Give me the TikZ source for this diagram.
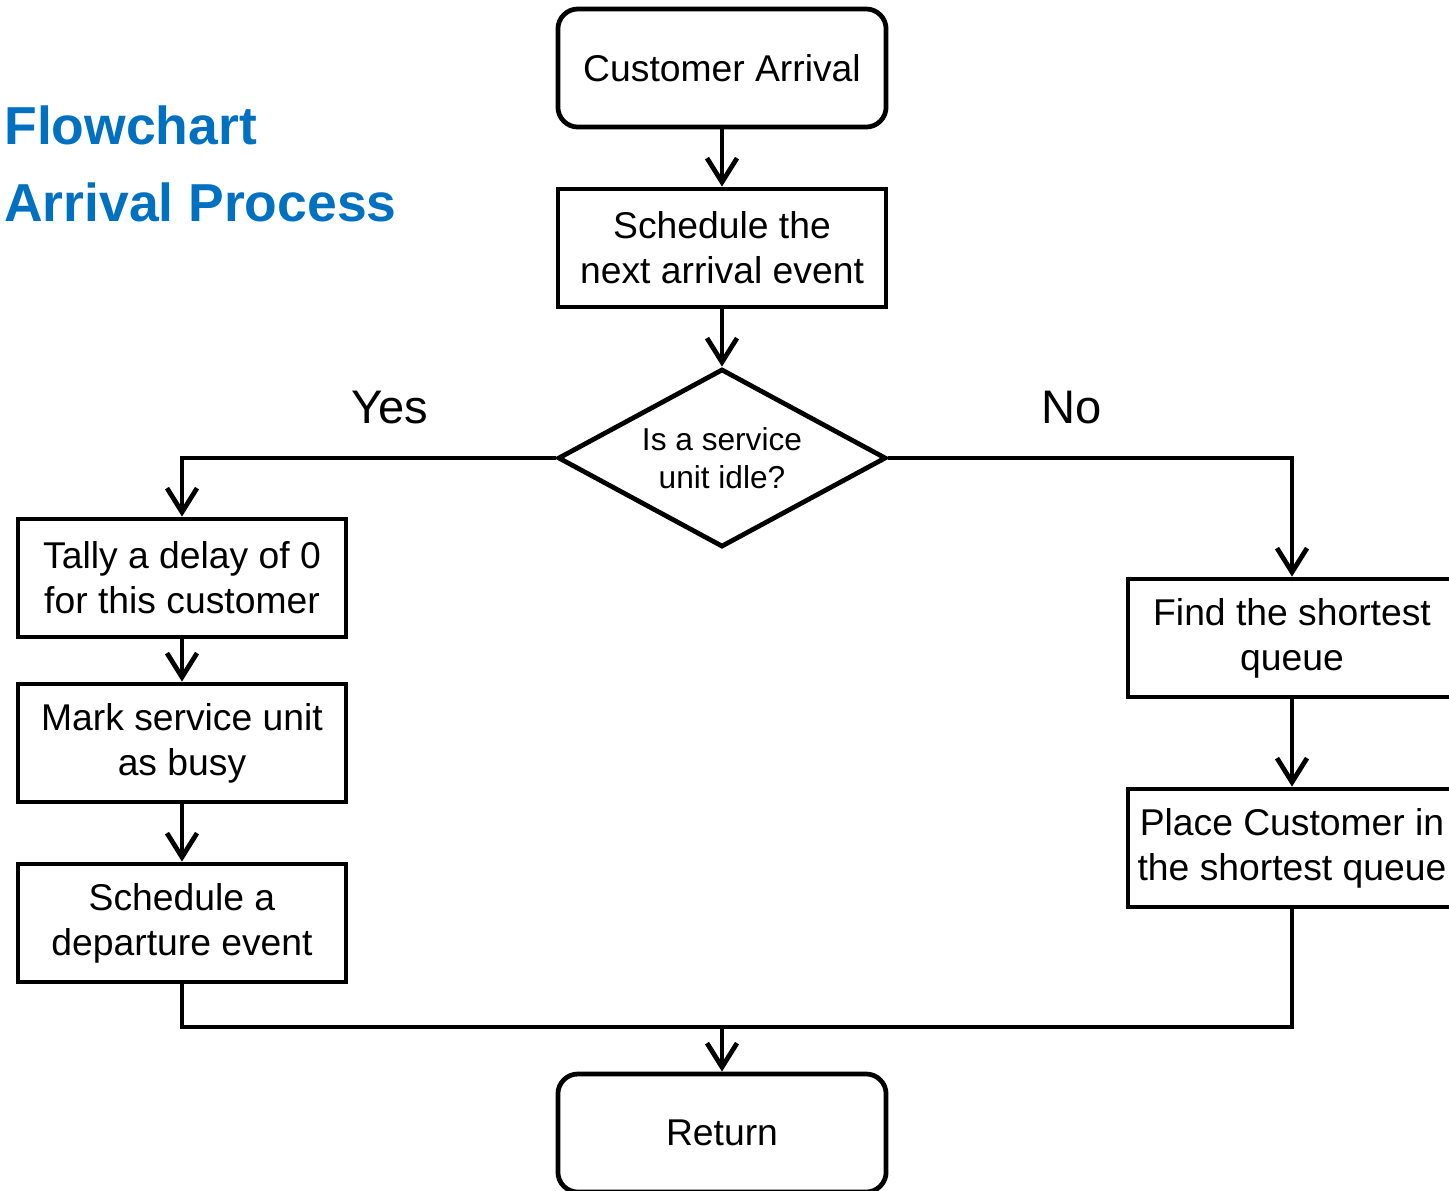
\documentclass[tikz,border=0pt]{standalone}
\usepackage{fontspec}
\setmainfont{Liberation Sans}
\usepackage{tikz}
\usetikzlibrary{arrows.meta,shapes.geometric}
\definecolor{titleblue}{HTML}{0070C0}

\begin{document}
\begin{tikzpicture}[x=0.01cm,y=-0.01cm,
  line width=1.35pt,
  box/.style={draw,minimum width=3.28cm,minimum height=1.18cm,inner sep=0pt,align=center,font=\fontsize{10.6}{12.8}\selectfont},
  term/.style={box,rounded corners=0.2cm},
  decision/.style={draw,diamond,aspect=1.83,minimum width=3.28cm,minimum height=1.78cm,inner sep=0pt,align=center,font=\fontsize{9}{10.8}\selectfont},
  flow/.style={-{Straight Barb[length=2.4mm,width=3mm]}}]

\useasboundingbox (0,0) rectangle (1449,1190);
\clip (0,0) rectangle (1449,1190);

\node[anchor=base west,text=titleblue,font=\fontsize{15.2}{18}\selectfont\bfseries,inner sep=0pt] (t1) at (2,144) {Flowchart};
\node[anchor=base west,text=titleblue,font=\fontsize{15.2}{18}\selectfont\bfseries,inner sep=0pt] (t2) at (2,221) {Arrival Process};

\node[term] (c1) at (722,68) {Customer Arrival};
\node[box] (c2) at (722,248) {Schedule the\\next arrival event};
\node[decision] (d) at (722,458) {Is a service\\unit idle?};

\node[box] (l1) at (182,578) {Tally a delay of 0\\for this customer};
\node[box] (l2) at (182,743) {Mark service unit\\as busy};
\node[box] (l3) at (182,923) {Schedule a\\departure event};

\node[box] (r1) at (1292,638) {Find the shortest\\queue};
\node[box] (r2) at (1292,848) {Place Customer in\\the shortest queue};

\node[term] (e) at (722,1133) {Return};

\node[anchor=base,font=\fontsize{13.4}{15}\selectfont,inner sep=0pt] (yes) at (390,423) {Yes};
\node[anchor=base,font=\fontsize{13.4}{15}\selectfont,inner sep=0pt] (no) at (1072,423) {No};

\coordinate (m) at (722,1027);

\path[flow] (c1) edge (c2) (c2) edge (d) (l1) edge (l2) (l2) edge (l3) (r1) edge (r2) (m) edge (e);
\draw[flow] (d.west) -| (l1.north);
\draw[flow] (d.east) -| (r1.north);
\draw (l3.south) |- (m) -| (r2.south);

\end{tikzpicture}
\end{document}
